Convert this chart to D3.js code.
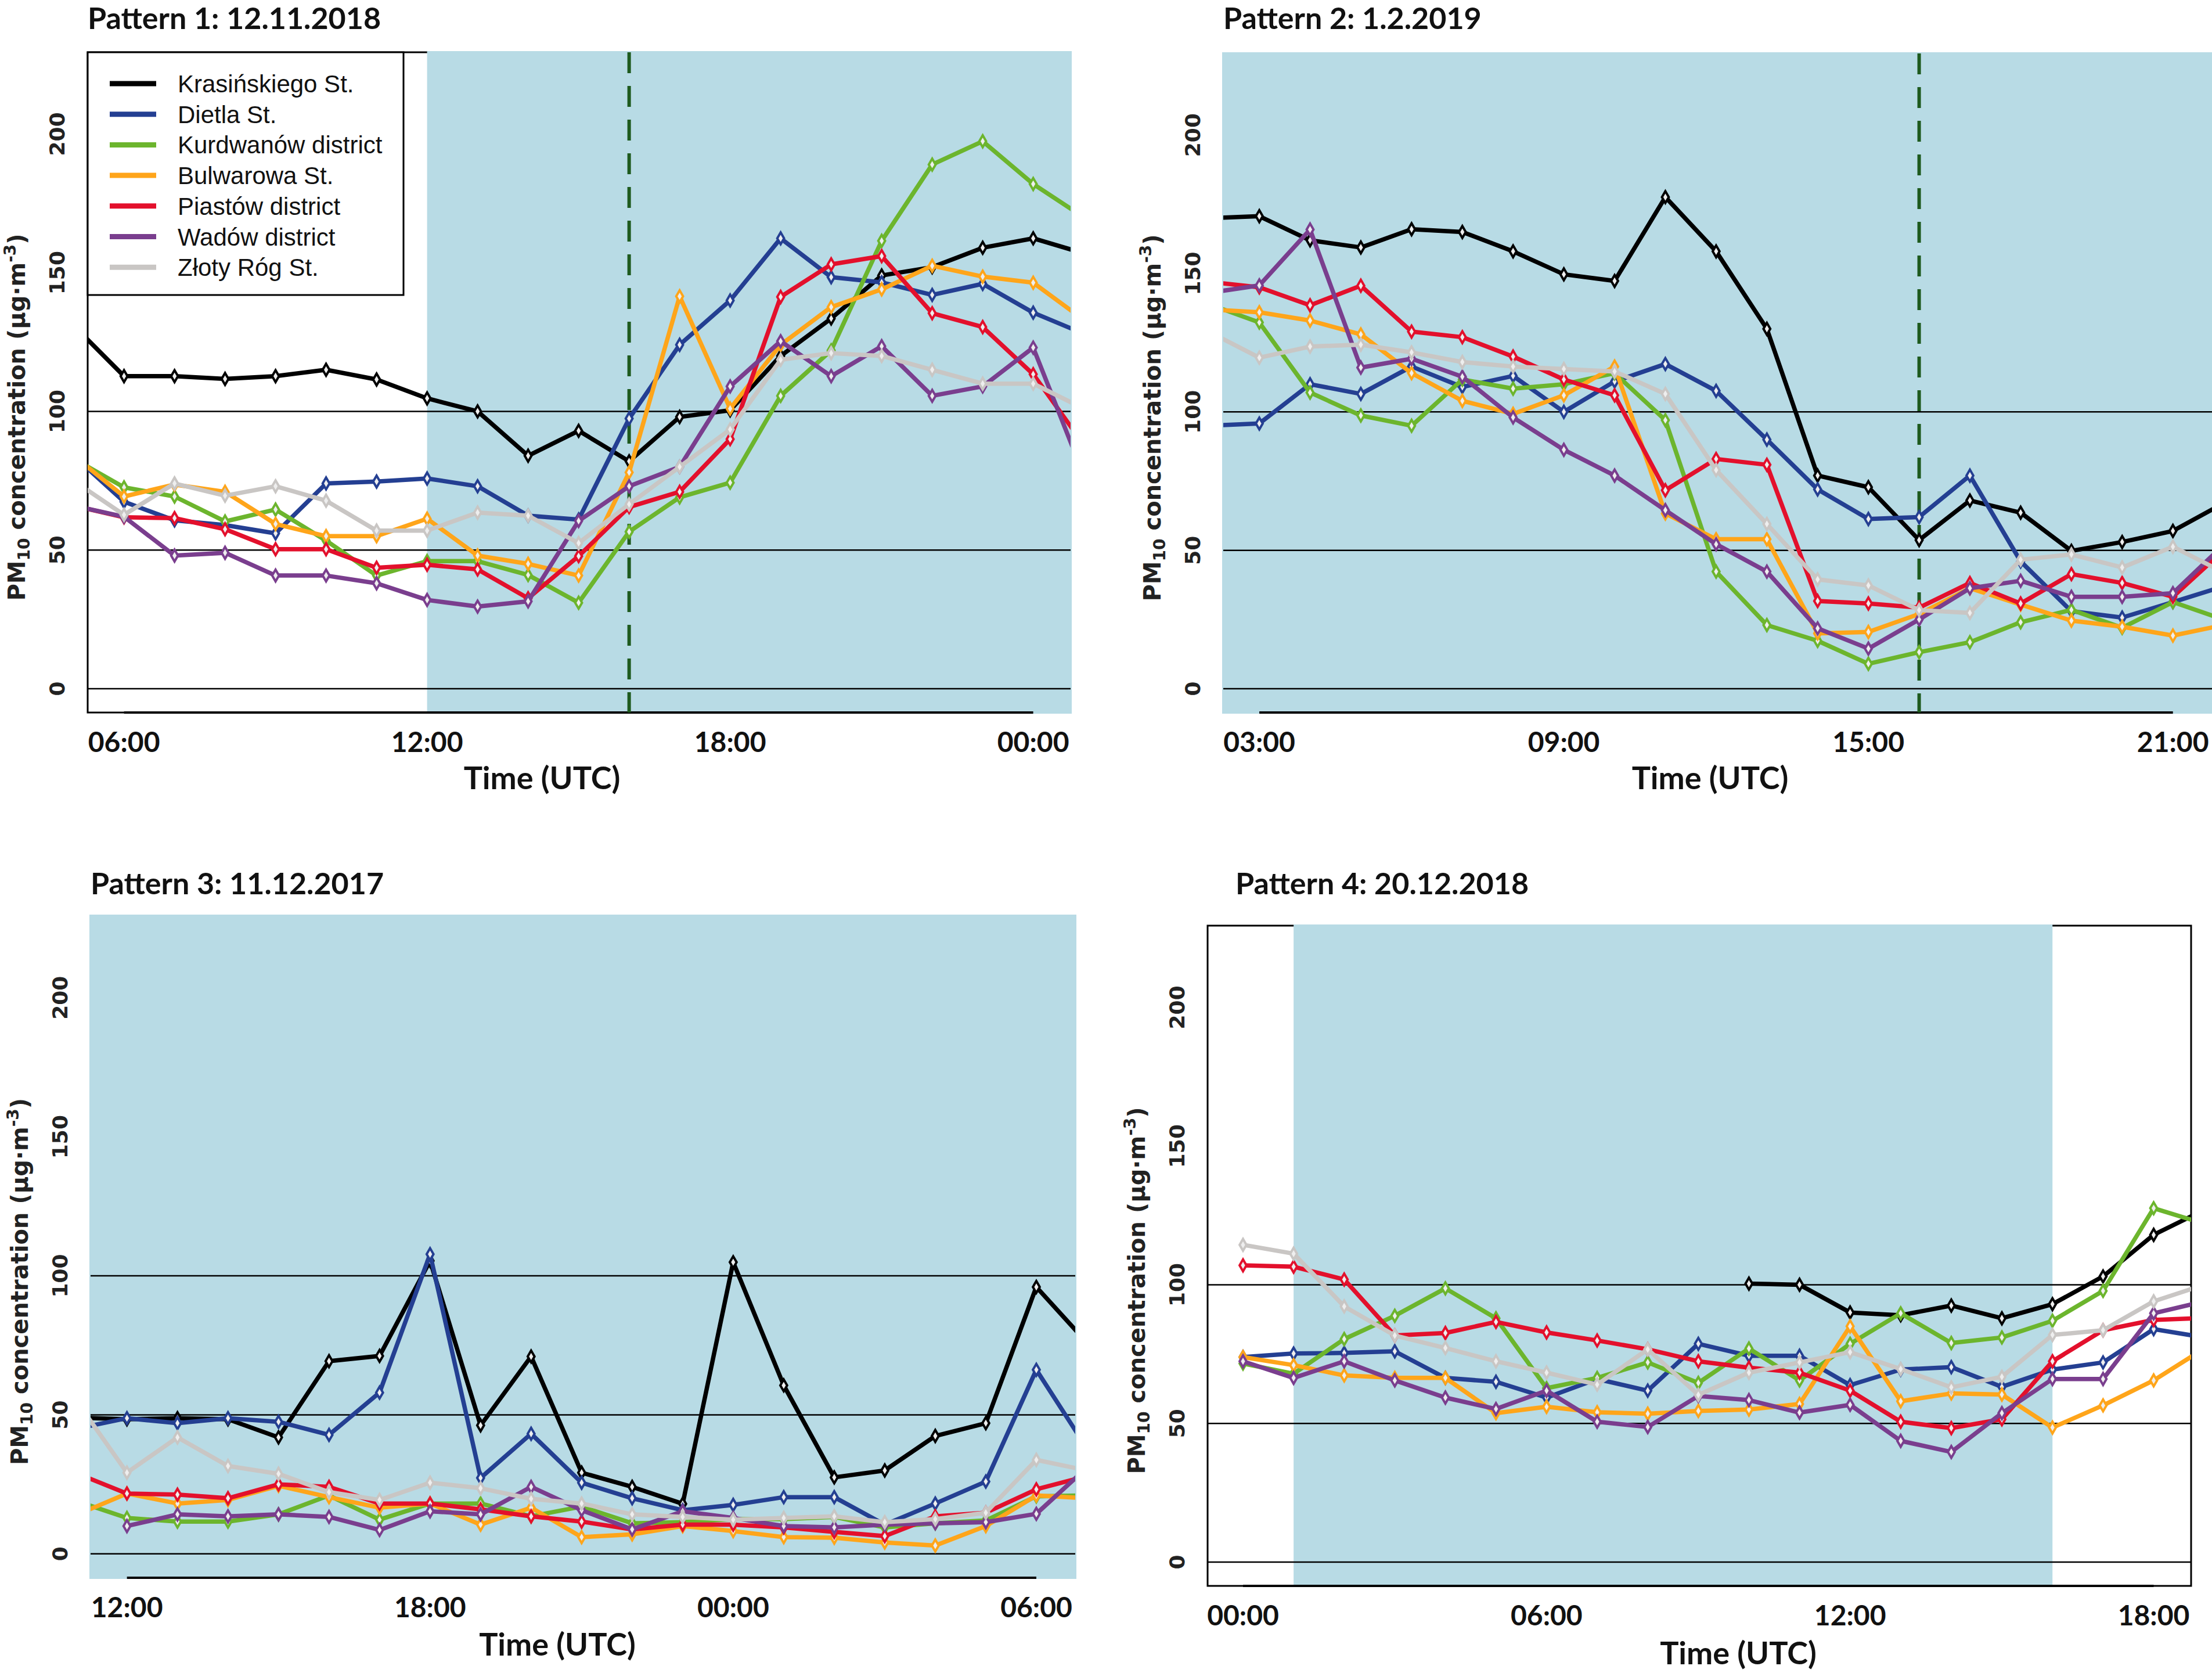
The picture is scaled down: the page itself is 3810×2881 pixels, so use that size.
<!DOCTYPE html>
<html lang="en">
<head>
<meta charset="UTF-8">
<title>PM10 patterns</title>
<script src="https://d3js.org/d3.v7.min.js"></script>
<style>
  body { margin: 0; background: #fff; }
  svg { display: block; }
</style>
</head>
<body>
<svg id="chart"></svg>
<script>
// stations and colours
const stations = ["Krasińskiego St.", "Dietla St.", "Kurdwanów district", "Bulwarowa St.",
                  "Piastów district", "Wadów district", "Złoty Róg St."];
const colors = ["#000000", "#243f92", "#6cb52d", "#ffa51a", "#e3102c", "#7a3e8e", "#c9c6c4"];

// Pattern 1: 12.11.2018, hours 5..25
const p1Kras = [131,112.7,112.7,111.7,112.7,115,111.5,104.7,100,84,93,82,98,100.4,120,133.5,149,152,159,162.4,157];
const p1Diet = [84,67.4,60.7,59,56,74,74.7,75.8,73,62.4,61,97.4,124,140,162.4,148.4,146.5,142,146,135.6,128];
const p1Kurd = [83,72.6,69.3,60.3,64.6,53.4,40.8,46,46,41,31,56.6,69,74.3,105.6,122,161.5,189,197.4,182,170];
const p1Bulw = [84,69.3,73.6,71,59.4,55,55,61.3,48,45,40.8,78,141.5,101,124,137.6,144,152.5,148.6,146.4,133];
const p1Pias = [66,61.8,61.5,57.5,50.3,50.3,43.6,44.7,43,32.6,47.8,65.5,71,90,141.3,153,156,135.4,130.4,113.4,88];
const p1Wado = [66,62,48,49,40.8,40.8,38,32,29.6,31.5,60.5,73,80,109,125.3,112.7,123.5,105.6,109,123,77];
const p1Zlot = [75,62.7,74,69.6,73,67.8,57,57,63.5,62.4,52.5,66.5,80,93.5,118.6,121,120,115,110,110,101];

// Pattern 2: 1.2.2019, hours 2..22
const p2Kras = [170,170.7,162,159.4,166,165,158,149.7,147.3,177.6,158,130,77,72.8,53.7,68,63.6,49.8,53,57,67];
const p2Diet = [95,95.8,110,106.5,116.4,109,113,100,111,117.3,107.6,90,72,61.3,62,77,46,28,25.7,31.3,37];
const p2Kurd = [139,132.3,107,98.7,95,111.7,108.4,110,114,97,42.3,23,17.3,9,13.2,16.8,24,28.5,22,31.3,25];
const p2Bulw = [137,136,133,128,114,104,99.3,106,116.4,63.3,54,54,20,20.5,27,36.3,30.4,24.6,22.4,19.2,23];
const p2Pias = [147,145,138.5,145.6,129,127,120,111.7,106,71.7,83,80.9,31.7,30.8,29.3,38.2,30.8,41.4,38.2,33.2,50];
const p2Wado = [143,145.7,165.9,116,119.2,112.7,98,86.3,77,64.5,52.2,42.3,21.8,14.5,25,36.3,39,33.2,33.2,34.5,52];
const p2Zlot = [129,119.6,123.6,124.3,121.5,118,116.4,115.5,114.6,106.5,79,59.5,39.5,37.3,28.4,27.4,46.6,48.5,43.8,51.3,42];

// Pattern 3: 11.12.2017, hours 11..31
const p3Kras = [49,48.4,48.8,48.4,41.9,69.3,71.2,105.4,46.2,71,29.2,24.1,18,104.9,60.6,27.5,30,42.4,47,96,76];
const p3Diet = [45,48.8,47,48.8,47.5,42.8,58,107.8,27.3,43.2,25.6,20,15.7,17.6,20.4,20.4,10.5,18.1,26,66.2,38];
const p3Kurd = [19,12.9,11.6,11.6,14.2,21,12.3,18.1,18.1,13.5,17,11,11.4,12.5,12.5,13.3,9.5,11,12,20.7,21];
const p3Bulw = [14,21.7,18.1,19.4,24.5,20.4,16.6,18.1,10.5,16.6,6,7,10,8.2,6,5.8,4.1,3,10,21,20];
const p3Pias = [29,21.7,21.3,20,25,24.1,18.1,18.1,16,13.5,11.6,8.8,10.5,10.5,9.5,7.9,6.4,13.5,14.8,23.2,28];
const p3Wado = [null,10,14.2,13.5,14.2,13.3,8.6,15.3,14.2,24.1,15.7,8.8,15.3,12.9,10,9.5,10.5,11,11.4,14.4,31];
const p3Zlot = [55,29.2,41.9,31.6,28.8,22.2,19.4,25.6,23.6,19.8,18.1,14.2,13.3,12.3,12.9,13.5,11.4,12.5,14.8,33.8,30];

// Pattern 4: 20.12.2018, hours 0..19
const p4Kras = [null,null,null,null,null,null,null,null,null,null,100.4,100,90,89,92.5,87.9,93,103,118,127];
const p4Diet = [73.9,75.2,75.4,76,66.4,65,59.3,66,61.8,78.7,74.4,74.4,63.8,69.4,70.3,63.2,69.4,72,84,81];
const p4Kurd = [71.6,67.9,80.4,88.8,98.7,87.9,62.7,66.4,72,64.6,77,65.5,78.7,89.7,79,81,87,97.8,127.6,122];
const p4Bulw = [73.9,71,67.3,66.4,66.4,53.7,56,54,53.5,54.5,55,57,85,58,60.8,60.4,48.5,56.5,65.5,77];
const p4Pias = [107,106.5,101.9,81.7,82.6,86.6,82.8,79.9,76.7,72.4,70.1,68.3,61.8,50.6,48.3,51.5,72.4,83.6,87.3,88];
const p4Wado = [72.4,66.4,72.4,65.5,59.3,55.2,61.8,50.6,48.7,59.9,58.4,53.9,56.7,43.7,39.7,53.7,66,66,89.7,94];
const p4Zlot = [114.4,111.2,92.2,81.7,77.2,72.4,68.3,64,76.7,60.3,68.3,72,75.7,69.6,63,66.8,81.9,83.6,94,100];

const yTicks = [0, 50, 100, 150, 200];
const gridLevels = [0, 50, 100];

const panels = [
  { title: "Pattern 1: 12.11.2018", start: 5, series: [p1Kras,p1Diet,p1Kurd,p1Bulw,p1Pias,p1Wado,p1Zlot],
    xDom: [5.28, 24.74], ticks: [6,12,18,24], tickLab: ["06:00","12:00","18:00","00:00"],
    shade: [12, 24.74], dash: 16, legend: true, timeDx: -64, timeY: 1341,
    box: {l:151, r:1844, t:90, b:1227}, titleY: 30 },
  { title: "Pattern 2: 1.2.2019", start: 2, series: [p2Kras,p2Diet,p2Kurd,p2Bulw,p2Pias,p2Wado,p2Zlot],
    xDom: [2.29, 21.77], ticks: [3,9,15,21], tickLab: ["03:00","09:00","15:00","21:00"],
    shade: [2.29, 21.77], dash: 16, timeDx: -13, timeY: 1341,
    box: {l:2107, r:3810, t:92, b:1227}, titleY: 30 },
  { title: "Pattern 3: 11.12.2017", start: 11, series: [p3Kras,p3Diet,p3Kurd,p3Bulw,p3Pias,p3Wado,p3Zlot],
    xDom: [11.28, 30.77], ticks: [12,18,24,30], tickLab: ["12:00","18:00","00:00","06:00"],
    shade: [11.28, 30.77], timeDx: -44, timeY: 2833,
    box: {l:156, r:1852, t:1577, b:2717}, titleY: 1520 },
  { title: "Pattern 4: 20.12.2018", start: 0, series: [p4Kras,p4Diet,p4Kurd,p4Bulw,p4Pias,p4Wado,p4Zlot],
    xDom: [-0.7, 18.74], ticks: [0,6,12,18], tickLab: ["00:00","06:00","12:00","18:00"],
    shade: [1, 16], timeDx: 67, timeY: 2848,
    box: {l:2080, r:3774, t:1594, b:2731}, titleY: 1520 }
];

const W = 3810, H = 2881;
const svg = d3.select("#chart").attr("width", W).attr("height", H);
const shadeColor = "#b8dbe5";

panels.forEach((p, pi) => {
  const b = p.box;
  const x = d3.scaleLinear().domain(p.xDom).range([b.l, b.r]);
  const y = d3.scaleLinear().domain([-8.6, 229.5]).range([b.b, b.t]);
  const g = svg.append("g");

  g.append("clipPath").attr("id", "clip" + pi)
    .append("rect").attr("x", b.l).attr("y", b.t).attr("width", b.r - b.l).attr("height", b.b - b.t);

  // box, then shading over it (covers the frame where it meets the edges)
  g.append("rect").attr("x", b.l).attr("y", b.t).attr("width", b.r - b.l).attr("height", b.b - b.t)
    .attr("fill", "#fff").attr("stroke", "#000").attr("stroke-width", 3);
  const sx0 = p.shade[0] <= p.xDom[0] ? b.l - 2 : x(p.shade[0]);
  const sx1 = p.shade[1] >= p.xDom[1] ? b.r + 2 : x(p.shade[1]);
  g.append("rect").attr("x", sx0).attr("y", b.t - 2)
    .attr("width", sx1 - sx0).attr("height", b.b - b.t + 4)
    .attr("fill", shadeColor);

  // bottom axis line from first to last tick
  g.append("line").attr("x1", x(p.ticks[0])).attr("x2", x(p.ticks[p.ticks.length - 1]))
    .attr("y1", b.b).attr("y2", b.b).attr("stroke", "#000").attr("stroke-width", 4);

  // horizontal reference lines
  g.selectAll(".ref").data(gridLevels).join("line")
    .attr("x1", b.l).attr("x2", b.r).attr("y1", d => y(d)).attr("y2", d => y(d))
    .attr("stroke", "#000").attr("stroke-width", 2.5);

  if (p.dash !== undefined) {
    g.append("line").attr("x1", x(p.dash)).attr("x2", x(p.dash)).attr("y1", b.t).attr("y2", b.b)
      .attr("stroke", "#1e5a1e").attr("stroke-width", 6).attr("stroke-dasharray", "36,22");
  }

  // series lines and markers
  const plot = g.append("g").attr("clip-path", `url(#clip${pi})`);
  const line = d3.line().defined(d => d.v !== null).x(d => x(d.h)).y(d => y(d.v));
  p.series.forEach((vals, si) => {
    const pts = vals.map((v, i) => ({ h: p.start + i, v }));
    plot.append("path").datum(pts).attr("d", line).attr("fill", "none")
      .attr("stroke", colors[si]).attr("stroke-width", 7.5).attr("stroke-linejoin", "round");
    plot.selectAll(null).data(pts.filter(d => d.v !== null)).join("path")
      .attr("d", d3.symbol(d3.symbolDiamond, 120))
      .attr("transform", d => `translate(${x(d.h)},${y(d.v)})`)
      .attr("fill", "#eeeeee").attr("stroke", colors[si]).attr("stroke-width", 4);
  });

  // y tick labels (rotated)
  g.selectAll(".yt").data(yTicks).join("text")
    .attr("transform", d => `translate(${b.l - 40},${y(d)}) rotate(-90)`)
    .attr("text-anchor", "middle").attr("font-family", "DejaVu Sans").attr("font-weight", "bold")
    .attr("font-size", 36).attr("fill", "#222").text(d => d);

  // x tick labels
  g.selectAll(".xt").data(p.ticks).join("text")
    .attr("x", d => x(d)).attr("y", b.b + 68).attr("text-anchor", "middle")
    .attr("font-family", "Lato").attr("font-weight", "bold").attr("font-size", 48)
    .attr("fill", "#111").text((d, i) => p.tickLab[i]);

  // axis titles
  g.append("text").attr("x", (b.l + b.r) / 2 + p.timeDx).attr("y", p.timeY + 18).attr("text-anchor", "middle")
    .attr("font-family", "Lato").attr("font-weight", "bold").attr("font-size", 54)
    .attr("fill", "#111").text("Time (UTC)");
  const yt = g.append("text")
    .attr("transform", `translate(${b.l - 108},${(b.t + b.b) / 2 + 60}) rotate(-90)`)
    .attr("text-anchor", "middle").attr("font-family", "DejaVu Sans").attr("font-weight", "bold")
    .attr("font-size", 40).attr("fill", "#222");
  yt.append("tspan").text("PM");
  yt.append("tspan").attr("font-size", 28).attr("dy", 8).text("10");
  yt.append("tspan").attr("dy", -8).text(" concentration (µg·m");
  yt.append("tspan").attr("font-size", 28).attr("dy", -16).text("-3");
  yt.append("tspan").attr("dy", 16).text(")");

  // panel title
  g.append("text").attr("x", b.l + (pi === 3 ? 48 : 0)).attr("y", p.titleY + 20)
    .attr("font-family", "Lato").attr("font-weight", "bold").attr("font-size", 52)
    .attr("fill", "#111").text(p.title);

  if (p.legend) {
    const lg = g.append("g");
    lg.append("rect").attr("x", b.l).attr("y", b.t).attr("width", 544).attr("height", 418)
      .attr("fill", "#fff").attr("stroke", "#000").attr("stroke-width", 3);
    stations.forEach((s, i) => {
      const ly = b.t + 54 + i * 52.7;
      lg.append("line").attr("x1", b.l + 38).attr("x2", b.l + 118).attr("y1", ly).attr("y2", ly)
        .attr("stroke", colors[i]).attr("stroke-width", 9);
      lg.append("text").attr("x", b.l + 155).attr("y", ly + 15)
        .attr("font-family", "Liberation Sans").attr("font-size", 42).attr("fill", "#111").text(s);
    });
  }
});
</script>
</body>
</html>
